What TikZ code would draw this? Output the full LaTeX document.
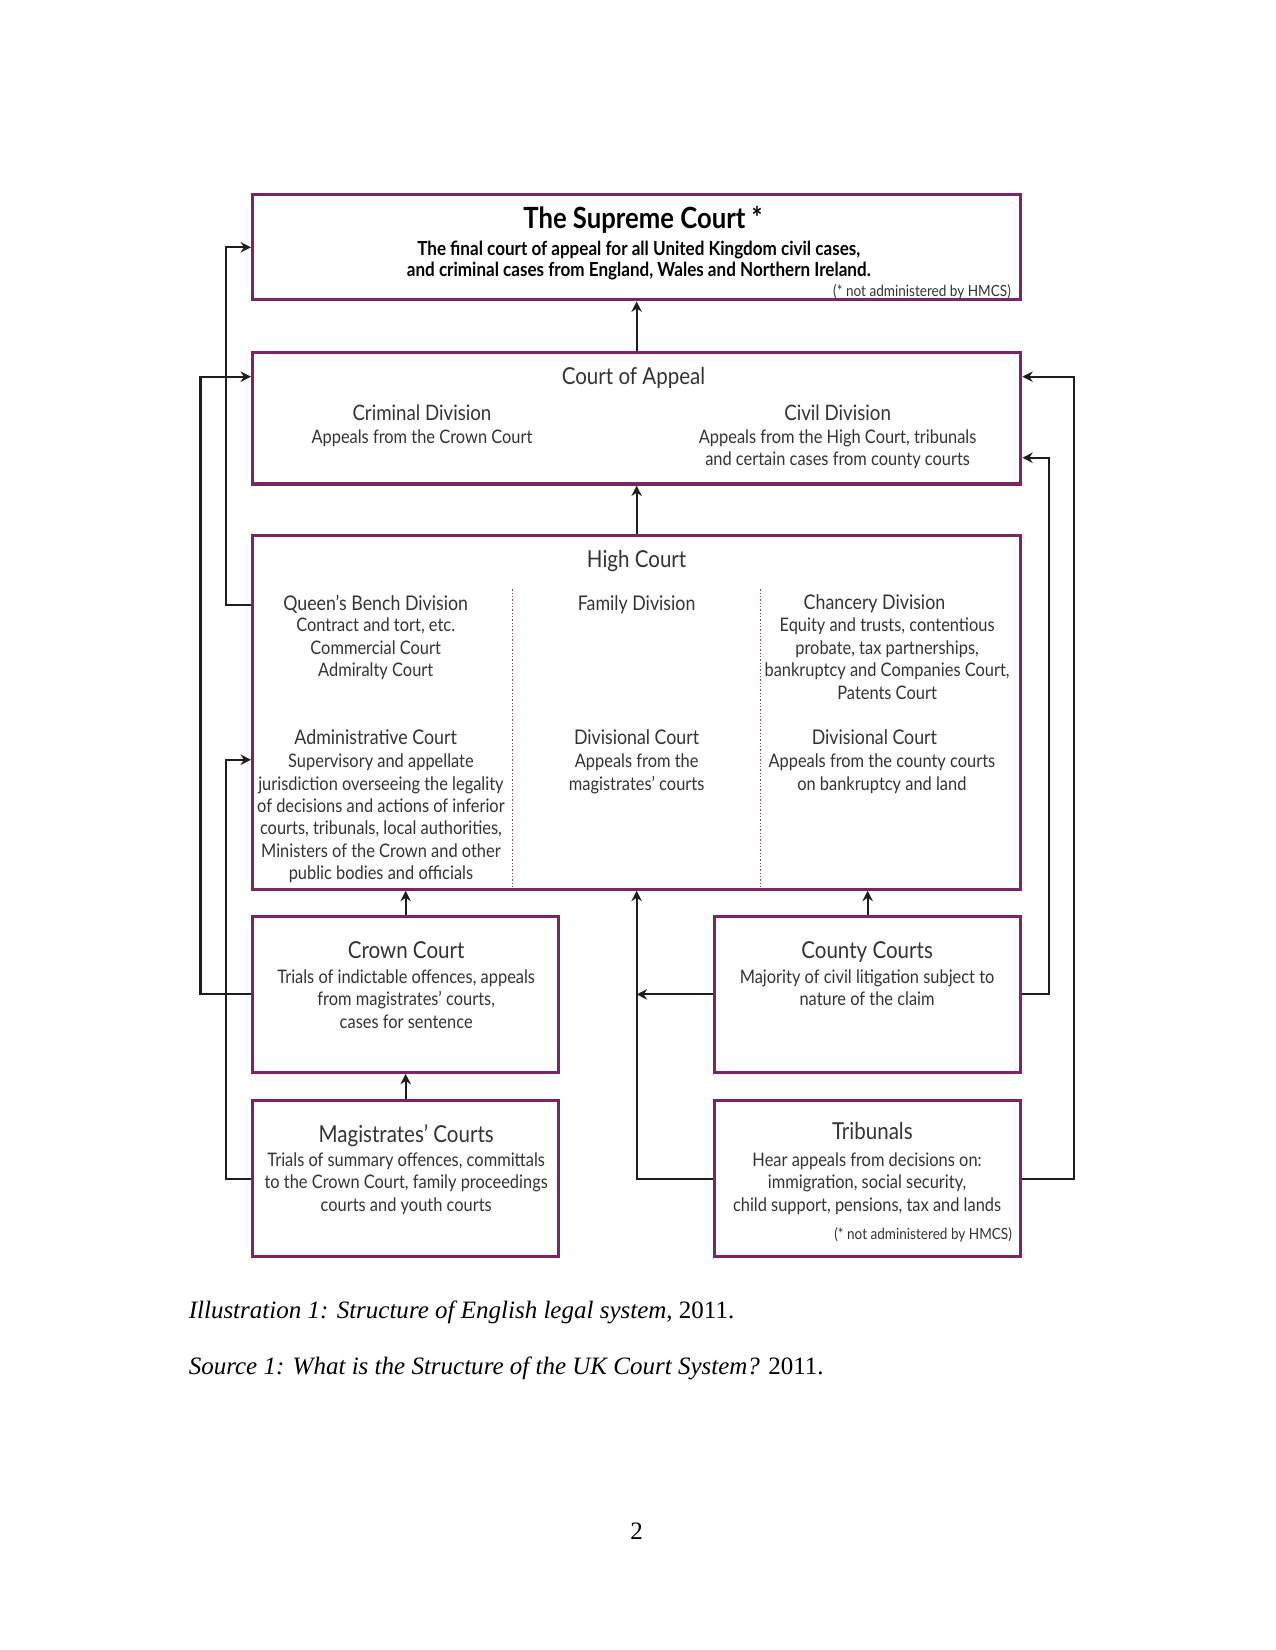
\documentclass[tikz,border=0pt]{standalone}
\usepackage{fontspec}
\setmainfont{Liberation Serif}
\newfontfamily\gill[FakeStretch=0.88]{Lato}
\usetikzlibrary{arrows.meta}
\newdimen\px \px=0.50495pt
\definecolor{boxpurple}{HTML}{7D2468}
\definecolor{txt}{HTML}{333333}
\definecolor{ln}{HTML}{1E1E1A}
\begin{document}
\begin{tikzpicture}[x=0.50495pt,y=-0.50495pt,
  box/.style={draw=boxpurple, line width=1.5pt, inner sep=0pt},
  wide/.style={box, minimum width=730\px},
  smallbox/.style={box, minimum width=291\px, minimum height=148\px},
  bighd/.style={anchor=north, inner sep=0pt, text=txt, font=\gill\fontsize{11.2}{13}\selectfont},
  hd/.style={anchor=north, inner sep=0pt, text=txt, font=\gill\fontsize{10.2}{12}\selectfont},
  subhd/.style={anchor=north, inner sep=0pt, text=txt, font=\gill\fontsize{9.7}{11.5}\selectfont},
  bd/.style={anchor=north, inner sep=0pt, align=center, text=txt, font=\gill\fontsize{8.95}{10.75}\selectfont},
  notetext/.style={anchor=east, inner sep=0pt, text=txt, font=\gill\fontsize{7.4}{8}\selectfont},
  arr/.style={draw=ln, line width=1pt, -{Stealth[length=5pt,width=5pt]}},
  divider/.style={draw=boxpurple!60!gray, line width=0.6pt, densely dotted},
  captext/.style={anchor=west, inner sep=0pt, font=\fontsize{12}{14}\selectfont}
]
\useasboundingbox (0,0) rectangle (1212,1568);

% boxes
\node[wide, minimum height=100\px] (sup) at (605,235) {};
\node[wide, minimum height=125\px] (coa) at (605,397.5) {};
\node[wide, minimum height=336\px] (hc) at (605,677) {};
\node[smallbox] (crown) at (385.5,945) {};
\node[smallbox] (county) at (824.5,945) {};
\node[smallbox] (mag) at (385.5,1120) {};
\node[smallbox] (trib) at (824.5,1120) {};

% dividers in High Court
\draw[divider] (487,560) -- (487,844);
\draw[divider] (723,560) -- (723,844);

% Supreme Court
\node[anchor=north, inner sep=0pt, font=\gill\bfseries\fontsize{14}{16}\selectfont] (supt) at (611,196) {The Supreme Court *};
\node[anchor=north, inner sep=0pt, align=center, font=\gill\bfseries\fontsize{9.3}{10.1}\selectfont] (supb) at (607,229) {The final court of appeal for all United Kingdom civil cases,\\and criminal cases from England, Wales and Northern Ireland.};
\node[notetext] (supn) at (961,277) {(* not administered by HMCS)};

% Court of Appeal
\node[bighd] (coah) at (602,349) {Court of Appeal};
\node[hd] (crimh) at (401,384) {Criminal Division};
\node[bd] (crimb) at (401,408) {Appeals from the Crown Court};
\node[hd] (civh) at (796,384) {Civil Division};
\node[bd] (civb) at (796,408) {Appeals from the High Court, tribunals\\and certain cases from county courts};

% High Court
\node[bighd] (hch) at (605,523) {High Court};
\node[subhd] (qbh) at (357,565) {Queen’s Bench Division};
\node[bd] (qbb) at (357,587) {Contract and tort, etc.\\Commercial Court\\Admiralty Court};
\node[subhd] (famh) at (605,566) {Family Division};
\node[subhd] (chh) at (831,565) {Chancery Division};
\node[bd] (chb) at (843,587) {Equity and trusts, contentious\\probate, tax partnerships,\\bankruptcy and Companies Court,\\Patents Court};
\node[subhd] (admh) at (357,693) {Administrative Court};
\node[bd] (admb) at (362,716) {Supervisory and appellate\\jurisdiction overseeing the legality\\of decisions and actions of inferior\\courts, tribunals, local authorities,\\Ministers of the Crown and other\\public bodies and officials};
\node[subhd] (div1h) at (605,693) {Divisional Court};
\node[bd] (div1b) at (605,716) {Appeals from the\\magistrates’ courts};
\node[subhd] (div2h) at (831,693) {Divisional Court};
\node[bd] (div2b) at (838,716) {Appeals from the county courts\\on bankruptcy and land};

% lower courts
\node[bighd] (crh) at (386,894) {Crown Court};
\node[bd] (crb) at (386,921) {Trials of indictable offences, appeals\\from magistrates’ courts,\\cases for sentence};
\node[bighd] (cch) at (824,894) {County Courts};
\node[bd] (ccb) at (824,921) {Majority of civil litigation subject to\\nature of the claim};
\node[bighd] (mgh) at (386,1068) {Magistrates’ Courts};
\node[bd] (mgb) at (386,1095) {Trials of summary offences, committals\\to the Crown Court, family proceedings\\courts and youth courts};
\node[bighd] (trh) at (829,1066) {Tribunals};
\node[bd] (trb) at (824,1095) {Hear appeals from decisions on:\\immigration, social security,\\child support, pensions, tax and lands};
\node[notetext] (trn) at (962,1173) {(* not administered by HMCS)};

% connectors
\draw[arr] (coa.north) -- (sup.south);
\draw[arr] (hc.north) -- (coa.south);
\draw[arr] (crown.north) -- (crown.north |- hc.south);
\draw[arr] (county.north) -- (county.north |- hc.south);
\draw[arr] (mag.north) -- (crown.south);
\draw[arr] (trib.west) -| (hc.south);
\coordinate (join) at (hc.south |- county.west);
\draw[arr] (county.west) -- (join);

\coordinate (qbin) at (hc.west |- 0,575);
\draw[arr] (qbin) -- ++(-24,0) |- (sup.west);
\coordinate (coaL) at (coa.west |- 0,358);
\draw[arr] (crown.west) -- ++(-48,0) |- (coaL);
\coordinate (admin) at (hc.west |- 0,722);
\draw[arr] (mag.west) -- ++(-24,0) |- (admin);
\coordinate (coaR) at (coa.east |- 0,358);
\draw[arr] (trib.east) -- ++(49,0) |- (coaR);
\coordinate (coaR2) at (coa.east |- 0,435);
\draw[arr] (county.east) -- ++(25,0) |- (coaR2);

% captions
\node[captext] (cap1) at (179,1247) {{\itshape Illustration 1: Structure of English legal system}, 2011.};
\node[captext] (cap2) at (179,1300) {{\itshape Source 1: What is the Structure of the UK Court System?} 2011.};
\node[inner sep=0pt, font=\fontsize{12}{14}\selectfont] (pg) at (605,1455) {2};
\end{tikzpicture}
\end{document}
